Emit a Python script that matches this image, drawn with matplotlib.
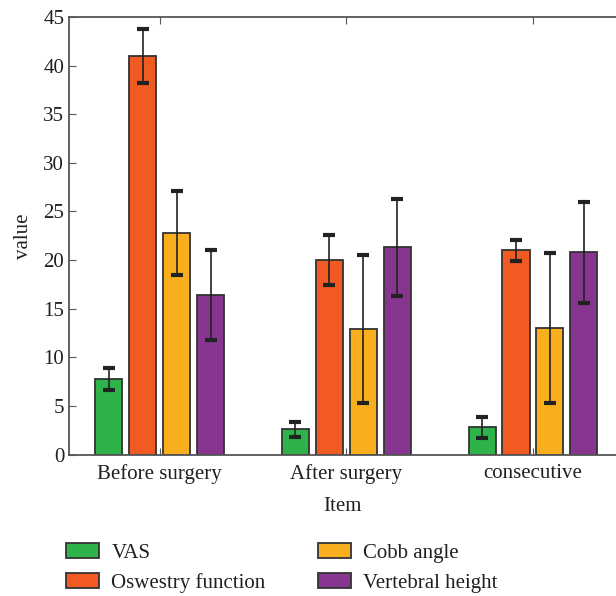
# 手術前後の指標を棒グラフ（エラーバー付き）で描く

import matplotlib.pyplot    as plt
import numpy                as np

groups  = ["Before surgery", "After surgery", "consecutive"]
series  = ["VAS", "Oswestry function", "Cobb angle", "Vertebral height"]
vas     = [7.8, 2.6, 2.8]
vas_err = [1.15, 0.77, 1.08]
odi     = [41.0, 20.0, 21.0]
odi_err = [2.8, 2.55, 1.08]
cobb    = [22.8, 12.9, 13.0]
cobb_err= [4.3, 7.65, 7.75]
vh      = [16.4, 21.3, 20.8]
vh_err  = [4.65, 5.0, 5.2]

colors = ["#2db34a", "#f15a22", "#f9ae1e", "#86368f"]
text_c = "#231f20"

plt.rcParams['font.family'] = ['Liberation Serif', 'DejaVu Serif']
plt.rcParams['font.size'] = 15

fig = plt.figure(figsize=(6.16, 5.96), dpi=100)
ax = fig.add_axes([0.112, 0.2374, 0.888, 0.734])

x = np.arange(len(groups))
width = 0.145
pitch = 0.182
values = [vas, odi, cobb, vh]
errors = [vas_err, odi_err, cobb_err, vh_err]
for i in range(len(series)):
    pos = x + (i - 1.5) * pitch
    ax.bar(pos, values[i], width, color=colors[i], edgecolor="#333333",
           linewidth=1.3, label=series[i], zorder=2)
    ax.errorbar(pos, values[i], yerr=errors[i], fmt="none", ecolor="#222222",
                elinewidth=1.2, capsize=4, capthick=3, zorder=3)

ax.set_xlim(-0.487, 2.445)
ax.set_ylim(0, 45)
ax.set_yticks(np.arange(0, 46, 5))
ax.set_xticks(x)
ax.set_xticklabels(groups)
ax.tick_params(direction="in", length=5, color="#555555", labelcolor=text_c,
               top=True, labelsize=15)
ax.tick_params(axis="x", pad=7)
for s in ax.spines.values():
    s.set_color("#555555")
    s.set_linewidth(1.3)
ax.spines["right"].set_visible(False)

ax.set_xlabel("Item", color=text_c, fontsize=15, labelpad=9)
ax.set_ylabel("value", color=text_c, fontsize=15, labelpad=7)

handles, labels = ax.get_legend_handles_labels()
fig.legend(handles, labels, loc="upper left",
           bbox_to_anchor=(66 / 616, (596 - 543) / 596),
           ncol=2, frameon=False, fontsize=15, handlelength=1.6,
           handleheight=0.72, handletextpad=0.58, columnspacing=2.5,
           labelspacing=0.5, borderpad=0, borderaxespad=0,
           labelcolor=text_c)

plt.savefig("out.png", dpi=100)
